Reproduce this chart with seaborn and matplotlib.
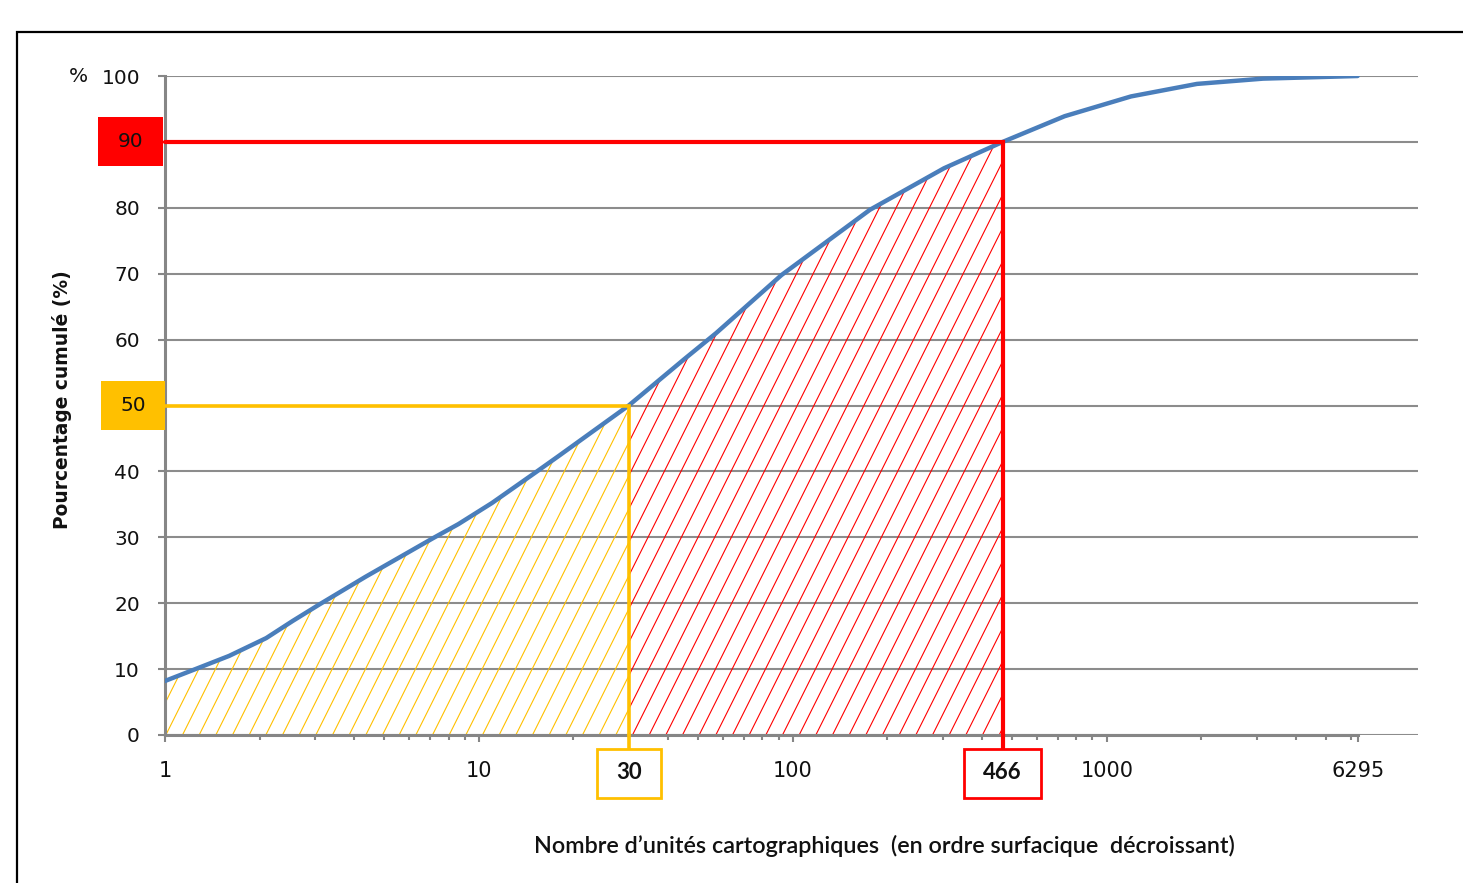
import numpy as np
import pandas as pd
import matplotlib
matplotlib.use("Agg")
import matplotlib.pyplot as plt
import matplotlib.transforms as mtransforms
import matplotlib.hatch as mhatch
from matplotlib.path import Path
from matplotlib.patches import Rectangle
from matplotlib.lines import Line2D
from matplotlib.ticker import FixedLocator, NullFormatter
import seaborn as sns

# ---------------- data ----------------
units = [1, 1.25, 1.6, 2.1, 2.55, 3.1, 4.35, 7.1, 8.6, 11, 15.1, 17.9, 30,
         45, 57, 92, 176, 303, 466, 734, 1194, 1937, 3145, 6295]
cum_pct = [8.2, 10.0, 12.0, 14.7, 17.3, 19.8, 24.0, 29.8, 32.0, 35.2, 39.8, 42.3, 50,
           57.0, 61.0, 69.8, 79.7, 86.0, 90, 93.9, 96.9, 98.8, 99.6, 100]

x_ticks = [1, 10, 100, 1000, 6295]
x_ticklabels = ["1", "10", "100", "1000", "6295"]
y_ticks = [0, 10, 20, 30, 40, 50, 60, 70, 80, 90, 100]
y_ticklabels = ["0", "10", "20", "30", "40", "", "60", "70", "80", "", "100"]

n_50, pct_50 = 30, 50
n_90, pct_90 = 466, 90

x_label = "Nombre d\u2019unités cartographiques  (en ordre surfacique  décroissant)"
y_label = "Pourcentage cumulé (%)"

# ---------------- steeper "/" hatch (like the reference) ----------------
HATCH = "//"
try:
    class _SteepNE(mhatch.HatchPatternBase):
        def __init__(self, hatch, density):
            self.num_lines = int((hatch.count('/') + hatch.count('x')
                                  + hatch.count('X')) * density)
            self.num_vertices = (2 * self.num_lines + 1) * 2 if self.num_lines else 0

        def set_vertices_and_codes(self, vertices, codes):
            n = self.num_lines
            c = np.arange(-n, n + 1) / n
            vertices[0::2, 0] = c
            vertices[0::2, 1] = 0.0
            vertices[1::2, 0] = c + 0.5
            vertices[1::2, 1] = 1.0
            codes[0::2] = Path.MOVETO
            codes[1::2] = Path.LINETO

    if hasattr(mhatch, "_hatch_types") and mhatch.NorthEastHatch in mhatch._hatch_types:
        mhatch._hatch_types = [(_SteepNE if t is mhatch.NorthEastHatch else t)
                               for t in mhatch._hatch_types]
        HATCH = "/"
except Exception:
    HATCH = "//"

# ---------------- style ----------------
BLUE = "#4a7ebb"
RED = "#ff0000"
YELLOW = "#ffc000"
GRID = "#8c8c8c"
AXIS = "#868686"
TXT = "#111111"

sns.set_theme(style="white")
plt.rcParams["font.family"] = ["DejaVu Sans"]
plt.rcParams["hatch.linewidth"] = 0.8

W, H = 1463, 883
DPI = 100
fig = plt.figure(figsize=(W / DPI, H / DPI), dpi=DPI)
fig.patch.set_facecolor("white")
ax = fig.add_axes([165 / W, 1 - 735 / H, (1418 - 165) / W, (735 - 76) / H])

df = pd.DataFrame({"units": units, "pct": cum_pct})
x = df["units"].to_numpy(float)
y = df["pct"].to_numpy(float)

ax.set_xscale("log")
ax.set_xlim(1, 9800)
ax.set_ylim(0, 100)

# hatched areas
m1 = x <= n_50
m2 = (x >= n_50) & (x <= n_90)
ax.fill_between(x[m1], 0, y[m1], facecolor="none", edgecolor=YELLOW, hatch=HATCH,
                linewidth=0, zorder=2)
ax.fill_between(x[m2], 0, y[m2], facecolor="none", edgecolor=RED, hatch=HATCH,
                linewidth=0, zorder=2)

# curve
sns.lineplot(data=df, x="units", y="pct", ax=ax, color=BLUE, linewidth=3.2,
             zorder=4, sort=True, solid_joinstyle="round", solid_capstyle="round")

# threshold lines
ax.plot([1, n_50, n_50], [pct_50, pct_50, 0], color=YELLOW, lw=2.6,
        solid_joinstyle="miter", zorder=5, clip_on=False)
ax.plot([1, n_90, n_90], [pct_90, pct_90, 0], color=RED, lw=3.0,
        solid_joinstyle="miter", zorder=5, clip_on=False)

# boxes below x axis (offset in inches from data x, axis y=0)
def xbox(xv, label, color, half_w):
    tr = fig.dpi_scale_trans + mtransforms.ScaledTranslation(xv, 0, ax.get_xaxis_transform())
    ax.add_artist(Line2D([0, 0], [-0.14, 0], transform=tr, color=color,
                         lw=3.0 if color == RED else 2.6, clip_on=False, zorder=5))
    ax.add_artist(Rectangle((-half_w, -0.625), 2 * half_w, 0.49, transform=tr,
                            facecolor="white", edgecolor=color, lw=2.0,
                            clip_on=False, zorder=6))
    ax.annotate(label, xy=(xv, 0), xycoords=ax.get_xaxis_transform(),
                xytext=(0, -0.375 * 72), textcoords="offset points",
                ha="center", va="center", fontsize=16, fontweight="bold",
                family=["Lato", "DejaVu Sans"], color=TXT,
                annotation_clip=False, zorder=7)

xbox(n_50, str(n_50), YELLOW, 0.32)
xbox(n_90, str(n_90), RED, 0.385)

# boxes left of y axis
def ybox(yv, label, color, left_px, right_px):
    tr = fig.dpi_scale_trans + mtransforms.ScaledTranslation(0, yv, ax.get_yaxis_transform())
    ax.add_artist(Rectangle((left_px / 100, -0.245), (right_px - left_px) / 100, 0.49,
                            transform=tr, facecolor=color, edgecolor="none",
                            clip_on=False, zorder=6))
    ax.annotate(label, xy=(0, yv), xycoords=ax.get_yaxis_transform(),
                xytext=((left_px + right_px) / 2 * 0.72, 0), textcoords="offset points",
                ha="center", va="center", fontsize=14.5, color=TXT,
                annotation_clip=False, zorder=7)

ybox(pct_90, str(pct_90), RED, -67, -2)
ybox(pct_50, str(pct_50), YELLOW, -64, 0)

# "%" marker
ax.annotate("%", xy=(0, 100), xycoords=ax.get_yaxis_transform(),
            xytext=(-87 * 0.72, 0), textcoords="offset points",
            ha="center", va="center", fontsize=14.5, color=TXT,
            annotation_clip=False)

# ticks
ax.xaxis.set_major_locator(FixedLocator(x_ticks))
ax.set_xticklabels(x_ticklabels)
minor = [m * 10 ** k for k in range(4) for m in range(2, 10) if m * 10 ** k <= x_ticks[-1]]
ax.xaxis.set_minor_locator(FixedLocator(minor))
ax.xaxis.set_minor_formatter(NullFormatter())
ax.set_yticks(y_ticks)
ax.set_yticklabels(y_ticklabels)

ax.tick_params(axis="x", which="major", direction="out", length=5, width=1.5,
               color=AXIS, pad=14, labelsize=15, labelcolor=TXT, bottom=True)
ax.tick_params(axis="x", which="minor", direction="out", length=3.5, width=1.5,
               color=AXIS, bottom=True)
ax.tick_params(axis="y", which="major", direction="out", length=5, width=1.5,
               color=AXIS, pad=13, labelsize=14.5, labelcolor=TXT, left=True)

# grid + spines
ax.yaxis.grid(True, color=GRID, lw=1.5)
ax.xaxis.grid(False)
ax.set_axisbelow(True)
for s in ["top", "right"]:
    ax.spines[s].set_visible(False)
ax.spines["left"].set_color(AXIS)
ax.spines["left"].set_linewidth(2.2)
ax.spines["bottom"].set_color(AXIS)
ax.spines["bottom"].set_linewidth(2.2)
ax.spines["bottom"].set_bounds(1, x_ticks[-1])

ax.set_xlabel("")
ax.set_ylabel("")

fig.text(884 / W, 1 - 846 / H, x_label, ha="center", va="center",
         fontsize=16.8, family=["Lato", "DejaVu Sans"], fontweight="semibold",
         color=TXT)
fig.text(62 / W, 1 - 400 / H, y_label, ha="center", va="center", rotation=90,
         fontsize=13.4, fontweight="bold", color=TXT)

# outer frame
fig.add_artist(Rectangle((17 / W, -0.05), 1.2, 1 - 32 / H + 0.05,
                         transform=fig.transFigure, fill=False, ec="black", lw=1.6))

fig.savefig("out.png", dpi=DPI, facecolor="white")
